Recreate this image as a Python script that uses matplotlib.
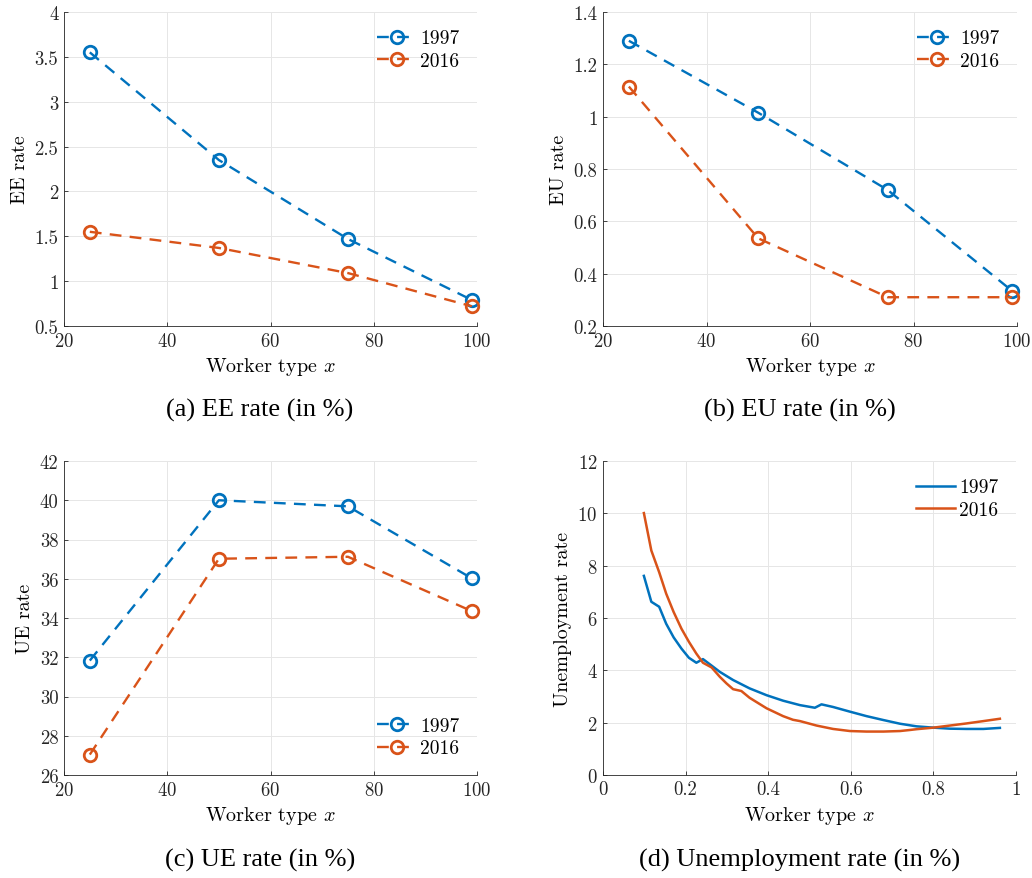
import matplotlib
matplotlib.use("Agg")
import matplotlib.pyplot as plt

plt.rcParams["font.family"] = "cmr10"
plt.rcParams["mathtext.fontset"] = "cm"
plt.rcParams["axes.formatter.use_mathtext"] = True

blue = "#0072BD"
orange = "#D95319"

# Datele
tipuri = [25, 50, 75, 99]
ee_1997 = [3.55, 2.35, 1.47, 0.79]
ee_2016 = [1.55, 1.37, 1.09, 0.72]
eu_1997 = [1.29, 1.015, 0.72, 0.335]
eu_2016 = [1.115, 0.535, 0.31, 0.31]
ue_1997 = [31.83, 40.0, 39.69, 36.02]
ue_2016 = [27.04, 37.02, 37.12, 34.35]

x_1997 = [0.099, 0.117, 0.136, 0.153, 0.171, 0.190, 0.208, 0.226, 0.242, 0.263,
          0.283, 0.315, 0.355, 0.396, 0.436, 0.477, 0.513, 0.529, 0.557, 0.598,
          0.638, 0.679, 0.719, 0.759, 0.800, 0.840, 0.880, 0.921, 0.961]
u_1997 = [7.61, 6.62, 6.43, 5.78, 5.26, 4.83, 4.48, 4.29, 4.43, 4.18,
          3.94, 3.63, 3.31, 3.05, 2.84, 2.67, 2.57, 2.70, 2.60, 2.42,
          2.25, 2.10, 1.96, 1.86, 1.81, 1.77, 1.76, 1.76, 1.80]
x_2016 = [0.099, 0.117, 0.136, 0.153, 0.171, 0.190, 0.208, 0.226, 0.242, 0.263,
          0.283, 0.299, 0.315, 0.335, 0.355, 0.396, 0.436, 0.460, 0.477, 0.517,
          0.557, 0.598, 0.638, 0.679, 0.719, 0.743, 0.759, 0.800, 0.840, 0.880,
          0.921, 0.961]
u_2016 = [10.01, 8.58, 7.75, 6.93, 6.23, 5.59, 5.09, 4.64, 4.29, 4.11,
          3.75, 3.50, 3.28, 3.21, 2.95, 2.55, 2.25, 2.11, 2.06, 1.89,
          1.76, 1.68, 1.66, 1.66, 1.68, 1.72, 1.75, 1.81, 1.89, 1.97,
          2.06, 2.15]

W, H = 1032, 879
fig = plt.figure(figsize=(W / 100, H / 100), dpi=100)


def make_ax(left, top, right, bottom):
    ax = fig.add_axes([left / W, 1 - bottom / H, (right - left) / W, (bottom - top) / H])
    ax.spines["top"].set_visible(False)
    ax.spines["right"].set_visible(False)
    for s in ["left", "bottom"]:
        ax.spines[s].set_color("#262626")
        ax.spines[s].set_linewidth(0.6)
    ax.grid(True, color="#e6e6e6", linewidth=0.7)
    ax.set_axisbelow(True)
    ax.tick_params(direction="in", length=3, width=0.6, colors="#262626",
                   labelsize=13.5, pad=4)
    return ax


def dashed(ax, y1, y2, ylabel, yticks, loc):
    ax.plot(tipuri, y1, "--o", color=blue, lw=1.7, ms=9, mew=2, mfc="none",
            dashes=(5, 3.5), label="1997", clip_on=False)
    ax.plot(tipuri, y2, "--o", color=orange, lw=1.7, ms=9, mew=2, mfc="none",
            dashes=(5, 3.5), label="2016", clip_on=False)
    ax.set_xlim(20, 100)
    ax.set_xticks([20, 40, 60, 80, 100])
    ax.set_ylim(yticks[0], yticks[-1])
    ax.set_yticks(yticks)
    ax.set_yticklabels([("%g" % t) for t in yticks])
    ax.set_xlabel("Worker type $x$", fontsize=14.5)
    ax.set_ylabel(ylabel, fontsize=14.5)
    ax.legend(loc=loc, frameon=False, fontsize=14, handlelength=2.0,
              handletextpad=0.2, labelspacing=0.25, borderaxespad=0.5)


ax1 = make_ax(64, 13, 477, 327)
dashed(ax1, ee_1997, ee_2016, "EE rate", [0.5, 1, 1.5, 2, 2.5, 3, 3.5, 4], "upper right")

ax2 = make_ax(603, 13, 1017, 327)
dashed(ax2, eu_1997, eu_2016, "EU rate", [0.2, 0.4, 0.6, 0.8, 1, 1.2, 1.4], "upper right")

ax3 = make_ax(64, 462, 477, 776)
dashed(ax3, ue_1997, ue_2016, "UE rate", list(range(26, 43, 2)), "lower right")

ax4 = make_ax(603, 462, 1016, 776)
ax4.plot(x_1997, u_1997, color=blue, lw=1.8, label="1997")
ax4.plot(x_2016, u_2016, color=orange, lw=1.8, label="2016")
ax4.set_xlim(0, 1)
ax4.set_ylim(0, 12)
ax4.set_xticks([0, 0.2, 0.4, 0.6, 0.8, 1])
ax4.set_xticklabels(["0", "0.2", "0.4", "0.6", "0.8", "1"])
ax4.set_yticks(range(0, 13, 2))
ax4.set_xlabel("Worker type $x$", fontsize=14.5)
ax4.set_ylabel("Unemployment rate", fontsize=14.5)
ax4.legend(loc="upper right", frameon=False, fontsize=14, handlelength=2.0,
           handletextpad=0.2, labelspacing=0.25, borderaxespad=0.5)

# Titluri sub fiecare grafic
cap = dict(family="Liberation Serif", fontsize=19, ha="center", va="center")
fig.text(260 / W, 1 - 410 / H, "(a) EE rate (in %)", **cap)
fig.text(800 / W, 1 - 410 / H, "(b) EU rate (in %)", **cap)
fig.text(260 / W, 1 - 860 / H, "(c) UE rate (in %)", **cap)
fig.text(800 / W, 1 - 860 / H, "(d) Unemployment rate (in %)", **cap)

fig.savefig("out.png", dpi=100)
